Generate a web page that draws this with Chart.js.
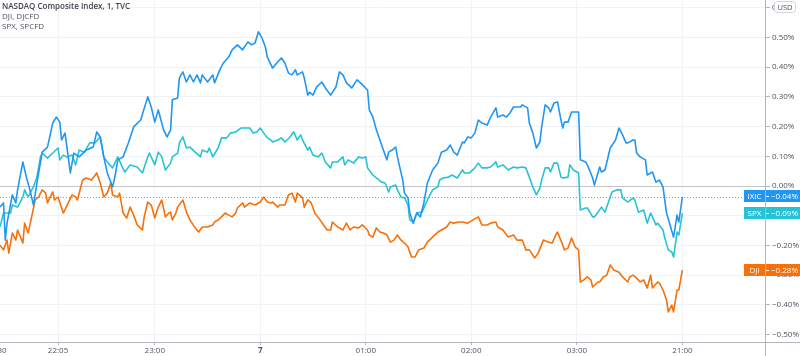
<!DOCTYPE html>
<html>
<head>
<meta charset="utf-8">
<script src="https://cdn.jsdelivr.net/npm/chart.js@4.4.1/dist/chart.umd.min.js"></script>
<style>
html,body{margin:0;padding:0;background:#fff;}
canvas{display:block;}
</style>
</head>
<body>
<canvas id="c" width="800" height="356"></canvas>
<script>
// ---- data (x = minutes after 21:30 session start, y = % change) ----
const ixicTimes = [2,4,5,6,9,11,12,15,17,19,21,23,26,29,32,34,36,37,39,42,44,47,51,55,57,59,61,63,66,67,69,72,75,78,82,86,88,90,92,95,97,99,100,103,104,106,108,110,112,114,116,117,120,123,124,127,129,132,134,137,140,141,143,145,147,149,151,153,154,157,160,162,164,166,168,170,171,174,175,177,178,180,182,185,187,190,193,195,197,199,202,205,207,211,212,214,216,218,220,222,223,225,227,228,231,232,234,235,237,239,241,243,245,248,251,253,256,258,260,262,265,266,268,270,272,274,276,279,281,284,285,288,290,292,294,296,298,299,302,303,305,307,309,310,312,314,315,317,319,321,322,323,325,327,329,331,332,335,336,339,340,342,343,344,346,349,352,354,356,358,359,362,363,364,366,369,370,373,375,377,379,381,383,385,387,388,390];
const ixicValues = [-0.071,-0.057,-0.182,-0.125,-0.030,-0.057,-0.013,0.081,0.030,-0.013,-0.064,0.010,0.114,0.131,0.212,0.232,0.215,0.155,0.178,0.044,0.111,0.098,0.121,0.131,0.182,0.165,0.098,0.044,-0.003,0.020,0.088,0.098,0.145,0.199,0.222,0.300,0.266,0.215,0.256,0.189,0.165,0.189,0.290,0.296,0.364,0.384,0.350,0.374,0.350,0.374,0.347,0.374,0.350,0.374,0.347,0.391,0.414,0.434,0.458,0.475,0.458,0.468,0.485,0.475,0.481,0.519,0.498,0.465,0.434,0.397,0.418,0.431,0.414,0.380,0.374,0.391,0.374,0.384,0.364,0.306,0.316,0.306,0.333,0.350,0.330,0.306,0.333,0.384,0.374,0.347,0.330,0.357,0.347,0.323,0.256,0.232,0.189,0.155,0.121,0.088,0.114,0.121,0.131,0.098,0.020,-0.024,-0.040,-0.091,-0.125,-0.091,-0.104,-0.057,0.010,0.054,0.077,0.114,0.121,0.138,0.114,0.104,0.148,0.145,0.165,0.162,0.178,0.222,0.212,0.205,0.232,0.263,0.232,0.239,0.232,0.246,0.266,0.266,0.266,0.273,0.263,0.212,0.178,0.128,0.148,0.199,0.273,0.263,0.249,0.279,0.283,0.222,0.195,0.215,0.215,0.249,0.249,0.249,0.088,0.081,0.071,0.027,0.003,0.044,0.064,0.047,0.054,0.128,0.155,0.195,0.172,0.145,0.145,0.155,0.155,0.111,0.098,0.088,0.037,0.047,0.013,0.020,-0.003,-0.091,-0.131,-0.172,-0.098,-0.121,-0.037];

const spxTimes = [2,4,8,9,12,15,16,18,21,23,25,26,29,32,35,36,38,40,43,45,47,50,53,56,59,61,63,66,69,71,73,76,80,83,86,87,90,92,94,96,99,100,103,104,106,108,110,113,116,117,120,121,123,126,128,131,133,136,139,141,144,146,148,150,152,154,156,157,160,162,164,167,169,171,173,174,177,178,180,183,185,187,190,191,194,197,198,200,203,206,208,210,211,214,216,219,221,223,224,227,228,230,232,234,235,237,239,242,245,248,251,252,254,257,259,262,265,266,269,272,274,276,279,281,284,285,288,291,294,296,299,301,303,305,307,309,310,312,314,315,317,319,321,322,325,326,328,331,332,335,336,339,340,342,344,346,348,350,353,355,356,359,362,363,365,368,370,372,375,376,379,380,382,384,385,387,388,390];
const spxValues = [-0.138,-0.091,-0.091,-0.064,-0.071,-0.037,-0.013,-0.037,-0.003,0.030,0.098,0.111,0.094,0.111,0.128,0.088,0.104,0.098,0.104,0.071,0.121,0.114,0.145,0.145,0.165,0.098,0.081,0.061,0.098,0.071,0.047,0.071,0.064,0.044,0.098,0.111,0.071,0.114,0.098,0.054,0.077,0.098,0.111,0.145,0.165,0.128,0.131,0.114,0.098,0.121,0.114,0.128,0.098,0.128,0.162,0.162,0.178,0.182,0.195,0.195,0.195,0.178,0.182,0.195,0.178,0.162,0.155,0.148,0.155,0.162,0.148,0.165,0.182,0.155,0.172,0.155,0.121,0.131,0.104,0.098,0.111,0.081,0.061,0.081,0.081,0.098,0.071,0.088,0.077,0.098,0.094,0.098,0.061,0.037,0.027,0.013,0.010,-0.020,-0.003,0.003,-0.013,-0.037,-0.040,-0.064,-0.114,-0.121,-0.091,-0.088,-0.047,-0.013,-0.003,0.020,0.027,0.030,0.037,0.027,0.054,0.044,0.044,0.061,0.077,0.061,0.061,0.064,0.081,0.064,0.071,0.054,0.064,0.061,0.064,0.061,0.030,-0.003,-0.030,-0.007,0.020,0.061,0.061,0.047,0.077,0.077,0.030,0.027,0.030,0.071,0.054,0.044,-0.081,-0.074,-0.074,-0.104,-0.104,-0.088,-0.071,-0.088,-0.054,-0.020,-0.013,-0.013,-0.040,-0.054,-0.040,-0.047,-0.088,-0.081,-0.125,-0.091,-0.131,-0.125,-0.148,-0.175,-0.215,-0.222,-0.239,-0.155,-0.165,-0.091];

const djiTimes = [2,4,6,7,9,11,12,15,16,18,20,22,24,26,28,29,32,33,35,38,41,43,45,46,49,51,54,57,59,61,63,65,66,69,70,72,74,76,78,80,83,84,86,88,90,92,94,96,98,99,100,102,103,106,108,110,113,115,117,120,123,124,126,128,130,132,134,136,137,140,141,144,147,150,152,154,156,157,160,161,164,166,168,170,171,174,175,177,179,181,184,186,188,190,191,194,195,197,199,201,203,206,208,211,212,214,216,218,220,222,224,226,228,230,232,234,236,238,240,243,245,248,251,253,256,258,260,263,265,268,271,274,276,279,281,284,285,288,291,294,296,299,301,303,306,308,311,314,316,318,319,322,323,325,327,329,331,332,334,336,338,339,342,343,345,347,349,351,354,356,359,360,362,364,366,368,370,372,373,376,377,379,381,382,384,385,387,388,390];
const djiValues = [-0.199,-0.215,-0.182,-0.226,-0.158,-0.182,-0.148,-0.192,-0.125,-0.158,-0.104,-0.047,-0.037,-0.013,-0.024,-0.057,-0.020,-0.047,-0.037,-0.091,-0.054,-0.030,-0.037,-0.047,0.020,0.027,0.020,0.044,0.010,-0.037,-0.024,0.010,-0.030,-0.037,-0.024,-0.091,-0.108,-0.071,-0.098,-0.131,-0.148,-0.104,-0.054,-0.064,-0.108,-0.071,-0.047,-0.104,-0.091,-0.088,-0.114,-0.091,-0.071,-0.047,-0.088,-0.114,-0.141,-0.155,-0.138,-0.138,-0.131,-0.121,-0.114,-0.104,-0.091,-0.098,-0.104,-0.091,-0.074,-0.057,-0.071,-0.057,-0.064,-0.054,-0.037,-0.054,-0.057,-0.054,-0.071,-0.064,-0.064,-0.030,-0.024,-0.054,-0.024,-0.040,-0.071,-0.047,-0.057,-0.091,-0.114,-0.131,-0.148,-0.148,-0.121,-0.138,-0.141,-0.148,-0.125,-0.148,-0.138,-0.141,-0.131,-0.148,-0.165,-0.172,-0.141,-0.155,-0.158,-0.165,-0.189,-0.182,-0.165,-0.182,-0.192,-0.205,-0.239,-0.239,-0.215,-0.209,-0.189,-0.172,-0.155,-0.148,-0.138,-0.121,-0.125,-0.121,-0.121,-0.125,-0.114,-0.104,-0.131,-0.131,-0.125,-0.121,-0.138,-0.148,-0.172,-0.165,-0.182,-0.182,-0.215,-0.215,-0.242,-0.226,-0.182,-0.189,-0.192,-0.165,-0.155,-0.199,-0.215,-0.209,-0.175,-0.205,-0.215,-0.323,-0.316,-0.306,-0.316,-0.340,-0.323,-0.323,-0.306,-0.300,-0.266,-0.283,-0.290,-0.306,-0.323,-0.306,-0.300,-0.310,-0.323,-0.316,-0.343,-0.300,-0.343,-0.323,-0.327,-0.350,-0.384,-0.424,-0.401,-0.424,-0.350,-0.350,-0.283];

const seriesNames = ['IXIC', 'SPX', 'DJI'];
const legendLines = ['NASDAQ Composite Index, 1, TVC', 'DJI, DJCFD', 'SPX, SPCFD'];
const xTickMinutes = [0, 35, 90, 150, 210, 270, 330, 390];
const xTickLabels = ['21:30', '22:05', '23:00', '7', '01:00', '02:00', '03:00', '21:00'];
const yTickValues = [-0.5, -0.4, -0.3, -0.2, -0.1, 0, 0.1, 0.2, 0.3, 0.4, 0.5, 0.6];

// ---- styling ----
const COLORS = { IXIC: '#2196f3', SPX: '#26c3d6', DJI: '#f7700a' };
const FONT = '"Open Sans", "Liberation Sans", sans-serif';
const AXIS_COLOR = '#b2b5be';
const TEXT_COLOR = '#50535e';
const GRID_COLOR = '#eff2f7';

function pct(v) {
  const a = Math.abs(v);
  const s = a.toFixed(2) + '%';
  return (v < -1e-9 ? '\u2212' : '') + s;
}
function toPoints(ts, vs) { return ts.map((t, i) => ({ x: t, y: vs[i] })); }

const overlay = {
  id: 'overlay',
  beforeDatasetsDraw(chart) {
    const { ctx, chartArea: a, scales: { y } } = chart;
    ctx.save();
    // zero line
    const y0 = Math.round(y.getPixelForValue(0)) + 0.5;
    ctx.strokeStyle = '#c3c5cb';
    ctx.lineWidth = 1;
    ctx.beginPath(); ctx.moveTo(a.left, y0); ctx.lineTo(a.right, y0); ctx.stroke();
    // dotted last-value line of IXIC
    const yl = Math.round(y.getPixelForValue(ixicValues[ixicValues.length - 1])) + 0.5;
    ctx.strokeStyle = 'rgba(33,150,243,0.75)';
    ctx.setLineDash([1, 2]);
    ctx.beginPath(); ctx.moveTo(a.left, yl); ctx.lineTo(a.right, yl); ctx.stroke();
    ctx.restore();
  },
  afterDraw(chart) {
    const { ctx, chartArea: a, scales: { y } } = chart;
    const W = chart.width, H = chart.height;
    ctx.save();
    // legend text
    ctx.textBaseline = 'middle';
    ctx.textAlign = 'left';
    ctx.fillStyle = '#434651';
    ctx.font = '600 8px ' + FONT;
    ctx.fillText(legendLines[0], 2, 7);
    ctx.font = '8px ' + FONT;
    ctx.fillStyle = '#50535e';
    ctx.fillText(legendLines[1], 2, 17);
    ctx.fillText(legendLines[2], 2, 26.5);

    // last value labels
    const lasts = { IXIC: ixicValues[ixicValues.length - 1], SPX: spxValues[spxValues.length - 1], DJI: djiValues[djiValues.length - 1] };
    seriesNames.forEach(n => {
      const py = y.getPixelForValue(lasts[n]) - 0.5;
      const top = Math.round(py - 6);
      ctx.fillStyle = COLORS[n];
      ctx.fillRect(744, top, W - 744, 12);
      ctx.fillStyle = '#ffffff';
      ctx.font = '8px ' + FONT;
      ctx.textAlign = 'center';
      ctx.fillText(n, 754.5, top + 6.5);
      ctx.textAlign = 'left';
      ctx.fillText(pct(lasts[n]), 771, top + 6.5);
      ctx.fillRect(766, top + 6, 3, 1);
    });

    // axis lines spanning the whole canvas
    ctx.strokeStyle = AXIS_COLOR;
    ctx.lineWidth = 1;
    const ax = Math.round(a.right) + 0.5;
    const ay = Math.round(a.bottom) + 0.5;
    ctx.beginPath(); ctx.moveTo(ax, 0); ctx.lineTo(ax, H); ctx.stroke();
    ctx.beginPath(); ctx.moveTo(0, ay); ctx.lineTo(W, ay); ctx.stroke();

    // USD box
    ctx.fillStyle = '#ffffff';
    ctx.strokeStyle = '#d1d4dc';
    const bx = 774.5, by = 1.5, bw = 21, bh = 11, r = 3;
    ctx.beginPath();
    ctx.moveTo(bx + r, by); ctx.lineTo(bx + bw - r, by); ctx.quadraticCurveTo(bx + bw, by, bx + bw, by + r);
    ctx.lineTo(bx + bw, by + bh - r); ctx.quadraticCurveTo(bx + bw, by + bh, bx + bw - r, by + bh);
    ctx.lineTo(bx + r, by + bh); ctx.quadraticCurveTo(bx, by + bh, bx, by + bh - r);
    ctx.lineTo(bx, by + r); ctx.quadraticCurveTo(bx, by, bx + r, by);
    ctx.closePath(); ctx.fill(); ctx.stroke();
    ctx.fillStyle = TEXT_COLOR;
    ctx.textAlign = 'center';
    ctx.font = '7.5px ' + FONT;
    ctx.fillText('USD', bx + bw / 2, by + bh / 2 + 0.5);
    ctx.restore();
  }
};

new Chart(document.getElementById('c').getContext('2d'), {
  type: 'line',
  data: {
    datasets: [
      { label: seriesNames[0], data: toPoints(ixicTimes, ixicValues), borderColor: COLORS.IXIC },
      { label: seriesNames[1], data: toPoints(spxTimes, spxValues), borderColor: COLORS.SPX },
      { label: seriesNames[2], data: toPoints(djiTimes, djiValues), borderColor: COLORS.DJI }
    ]
  },
  options: {
    responsive: false,
    animation: false,
    layout: { padding: 0 },
    elements: { point: { radius: 0 }, line: { borderWidth: 1.6, tension: 0, borderJoinStyle: 'round' } },
    plugins: { legend: { display: false }, tooltip: { enabled: false } },
    scales: {
      x: {
        type: 'linear', min: 2, max: 437,
        border: { display: false },
        grid: { color: GRID_COLOR, tickColor: AXIS_COLOR, tickLength: 3 },
        afterBuildTicks: s => { s.ticks = xTickMinutes.map(v => ({ value: v })); },
        ticks: {
          autoSkip: false, maxRotation: 0, padding: 1, color: TEXT_COLOR,
          font: c => ({ family: FONT, size: 8, weight: (c.tick && c.tick.value === 150) ? 'bold' : 'normal' }),
          callback: v => { const i = xTickMinutes.indexOf(v); return i >= 0 ? xTickLabels[i] : ''; }
        },
        afterFit: s => { s.height = 14; s.paddingLeft = 0; s.paddingRight = 0; }
      },
      y: {
        position: 'right', min: -0.525, max: 0.626,
        border: { display: false },
        grid: { color: GRID_COLOR, tickColor: AXIS_COLOR, tickLength: 5 },
        afterBuildTicks: s => { s.ticks = yTickValues.map(v => ({ value: v })); },
        ticks: { padding: 2, color: TEXT_COLOR, font: { family: FONT, size: 8 }, callback: v => pct(v) },
        afterFit: s => { s.width = 35; s.paddingTop = 0; s.paddingBottom = 0; }
      }
    }
  },
  plugins: [overlay]
});
</script>
</body>
</html>
